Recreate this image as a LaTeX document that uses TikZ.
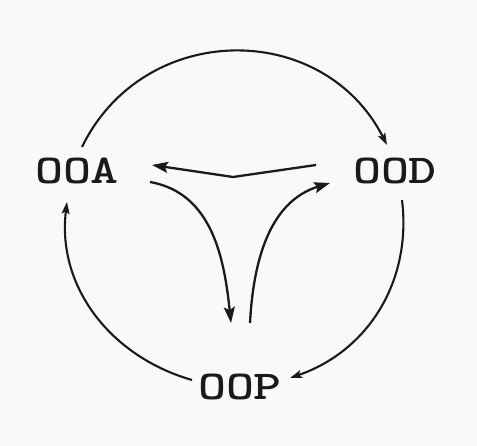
\documentclass[tikz,border=0pt]{standalone}
\usetikzlibrary{arrows.meta}
\definecolor{ink}{HTML}{1A1A1A}
\definecolor{bg}{HTML}{F8F9F8}
\begin{document}
\begin{tikzpicture}[x=1pt,y=1pt,
  lbl/.style={inner sep=0pt, text=ink, font=\fontsize{41}{41}\selectfont\ttfamily\bfseries},
  outer/.style={draw=ink, line width=2.1pt, -{Stealth[length=12pt,width=8pt,inset=2.5pt]}},
  inner/.style={draw=ink, line width=2.3pt, -{Stealth[length=16pt,width=11pt,inset=3pt]}}]
\fill[bg] (0,0) rectangle (477,446);
\useasboundingbox (0,0) rectangle (477,446);
\node[lbl] (OOA) at (77,275) {\scalebox{1.3}[1]{OOA}};
\node[lbl] (OOD) at (395,275) {\scalebox{1.3}[1]{OOD}};
\node[lbl] (OOP) at (240,59) {\scalebox{1.3}[1]{OOP}};
\coordinate (kink) at (233,269);
% outer circle arcs
\draw[outer] ([shift={(5,24)}]OOA.center) to[out=64,in=117,looseness=1.18] ([shift={(-8,26)}]OOD.center);
\draw[outer] ([shift={(7,-29)}]OOD.center) to[out=-83,in=19,looseness=1] ([shift={(50,9)}]OOP.center);
\draw[outer] ([shift={(-48,7)}]OOP.center) to[out=164,in=-97,looseness=1] ([shift={(-10,-31)}]OOA.center);
% inner arrows
\draw[inner] ([shift={(-79,6)}]OOD.center) -- (kink) -- ([shift={(75,6)}]OOA.center);
\draw[inner] ([shift={(73,-11)}]OOA.center) to[out=-10,in=96] ([shift={(-9,64)}]OOP.center);
\draw[inner] ([shift={(10,64)}]OOP.center) to[out=87,in=197] ([shift={(-65,-12)}]OOD.center);
\end{tikzpicture}
\end{document}
